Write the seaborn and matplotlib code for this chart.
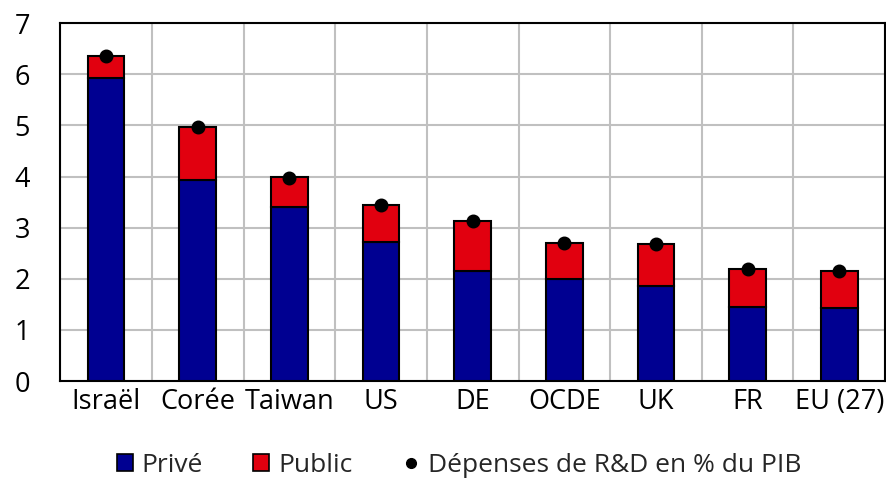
import matplotlib.pyplot as plt
import numpy as np
import pandas as pd
import seaborn as sns
from matplotlib.lines import Line2D
from matplotlib.patches import Patch

countries = ["Israël", "Corée", "Taiwan", "US", "DE", "OCDE", "UK", "FR", "EU (27)"]
prive = [5.93, 3.93, 3.40, 2.72, 2.15, 2.00, 1.85, 1.45, 1.42]
public = [0.43, 1.04, 0.59, 0.72, 0.98, 0.71, 0.83, 0.74, 0.73]
total = [6.35, 4.96, 3.98, 3.44, 3.13, 2.71, 2.68, 2.19, 2.15]

sns.set_theme(style="white")
plt.rcParams["font.family"] = ["Open Sans", "DejaVu Sans"]

df = pd.DataFrame({"pays": countries, "prive": prive, "public": public, "total": total})

fig = plt.figure(figsize=(8.86, 4.83), dpi=100)
ax = fig.add_axes([0.068, 0.211, 0.931, 0.741])

blue = "#000091"
red = "#e1000f"

sns.barplot(data=df, x="pays", y="prive", color=blue, width=0.4, saturation=1,
            edgecolor="black", linewidth=1.5, ax=ax, zorder=3)
sns.barplot(data=df, x="pays", y="public", bottom=df["prive"], color=red, width=0.4,
            saturation=1, edgecolor="black", linewidth=1.5, ax=ax, zorder=3)
sns.pointplot(data=df, x="pays", y="total", color="black", linestyle="none",
              markers="o", markersize=8, ax=ax, zorder=4)

ax.set_ylim(0, 7)
ax.set_xlim(-0.5, len(countries) - 0.5)
ax.set_yticks(range(0, 8))
ax.set_xticks(np.arange(-0.5, len(countries), 1.0), minor=True)
ax.grid(axis="y", which="major", color="#c0c0c0", linewidth=1.5, zorder=0)
ax.grid(axis="x", which="minor", color="#c0c0c0", linewidth=1.5, zorder=0)
ax.set_axisbelow(True)
ax.set_xlabel("")
ax.set_ylabel("")
ax.tick_params(axis="both", which="both", length=0, labelsize=19.5, colors="black")
ax.tick_params(axis="x", pad=5)
ax.tick_params(axis="y", pad=33)
for lab in ax.get_yticklabels():
    lab.set_horizontalalignment("left")
for side in ["left", "right", "top", "bottom"]:
    ax.spines[side].set_color("black")
    ax.spines[side].set_linewidth(1.5)

handles = [
    Patch(facecolor=blue, edgecolor="black", linewidth=1.2, label="Privé"),
    Patch(facecolor=red, edgecolor="black", linewidth=1.2, label="Public"),
    Line2D([], [], marker="o", color="black", linestyle="none", markersize=7,
           label="Dépenses de R&D en % du PIB"),
]
fig.legend(handles=handles, loc="lower center", bbox_to_anchor=(0.518, -0.038), ncol=3,
           frameon=False, fontsize=19, handlelength=0.6, handleheight=0.65,
           handletextpad=0.35, columnspacing=1.9)

fig.savefig("out.png", dpi=100)
